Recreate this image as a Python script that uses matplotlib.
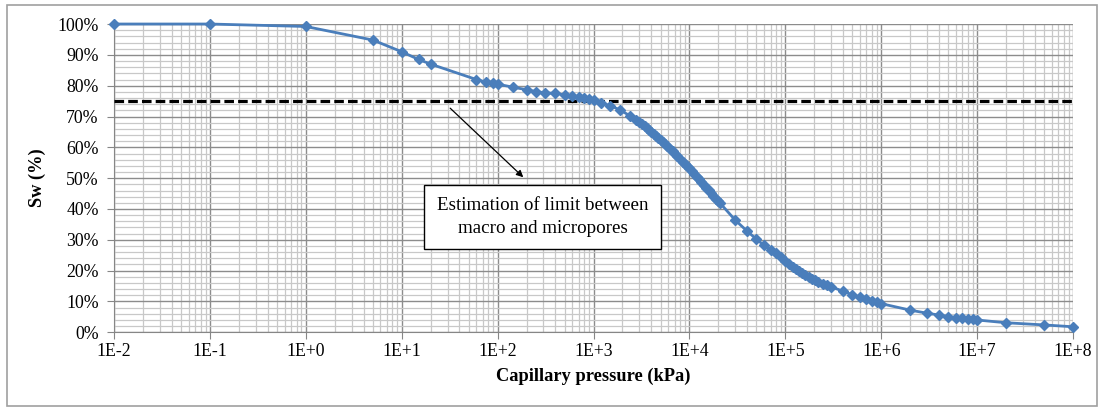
import numpy as np
import matplotlib
matplotlib.use("Agg")
import matplotlib.pyplot as plt
from matplotlib.ticker import FixedLocator, FuncFormatter, LogLocator, NullFormatter
from matplotlib.patches import Rectangle

plt.rcParams['font.family'] = ['Liberation Serif', 'DejaVu Serif']

# capillary pressure (kPa) and water saturation (%)
pressure = [0.01, 0.1, 1, 5, 10, 15, 20, 60, 75, 90, 100, 145, 200, 250, 310,
            400, 500, 600, 700, 800, 900, 1000, 1200, 1500, 1900, 2400,
            2800, 3000, 3200, 3400, 3600, 3800, 4000, 4250, 4500, 4750, 5000,
            5300, 5600, 5900, 6300, 6700, 7100, 7500, 8000, 8500, 9000, 9500,
            10000, 10600, 11200, 11900, 12600, 13300, 14100, 15000, 15800,
            16800, 17800, 18800, 20000, 21000,
            30000, 40000, 50000, 60000, 70000, 80000, 90000,
            100000, 110000, 120000, 130000, 140000, 150000, 160000, 175000,
            190000, 205000, 220000, 245000, 270000, 300000,
            400000, 500000, 600000, 700000, 800000, 900000,
            1e6, 2e6, 3e6, 4e6, 5e6, 6e6, 7e6, 8e6, 9e6, 1e7, 2e7, 5e7, 1e8]
sw = [100, 100, 99.2, 94.8, 91.0, 88.5, 87.0, 82.0, 81.2, 80.8, 80.5, 79.5, 78.7, 78.1, 77.7,
      77.5, 77.0, 76.6, 76.2, 75.9, 75.6, 75.2, 74.4, 73.5, 72.1, 70.2,
      69.0, 68.3, 67.7, 67.0, 66.3, 65.7, 65.1, 64.4, 63.7, 63.0, 62.4,
      61.7, 61.0, 60.3, 59.5, 58.7, 57.9, 57.1, 56.2, 55.4, 54.6, 53.9,
      53.2, 52.3, 51.5, 50.5, 49.7, 48.8, 47.9, 46.9, 46.1,
      45.2, 44.3, 43.4, 42.5, 41.8,
      36.4, 32.8, 30.2, 28.2, 26.7, 25.6, 24.5,
      23.0, 22.1, 21.3, 20.6, 20.0, 19.3, 18.7, 18.0,
      17.4, 16.9, 16.4, 15.8, 15.3, 14.8,
      13.3, 12.2, 11.3, 10.8, 10.3, 9.8,
      9.3, 7.2, 6.2, 5.6, 5.1, 4.8, 4.6, 4.4, 4.2, 4.0, 3.1, 2.4, 1.8]
limit = 75
note = "Estimation of limit between\nmacro and micropores"

fig = plt.figure(figsize=(11.05, 4.12), dpi=100)
ax = fig.add_axes([0.1032, 0.1934, 0.8679, 0.7483])

fig.patches.append(Rectangle((0.0065, 0.015), 0.986, 0.972, transform=fig.transFigure,
                             fill=False, edgecolor='#a0a0a0', linewidth=1.2))

ax.set_xscale('log')
ax.set_xlim(0.01, 1e8)
ax.set_ylim(0, 100)

ax.xaxis.set_major_locator(LogLocator(base=10, numticks=20))
ax.xaxis.set_minor_locator(LogLocator(base=10, subs=np.arange(2, 10), numticks=200))
ax.xaxis.set_major_formatter(FuncFormatter(lambda v, p: "1E%+d" % int(round(np.log10(v)))))
ax.xaxis.set_minor_formatter(NullFormatter())
ax.yaxis.set_major_locator(FixedLocator(np.arange(0, 101, 10)))
ax.yaxis.set_minor_locator(FixedLocator(np.arange(0, 101, 2)))
ax.yaxis.set_major_formatter(FuncFormatter(lambda v, p: "%d%%" % v))

ax.grid(which='minor', color='#c8c8c8', linewidth=0.9)
ax.grid(which='major', color='#8c8c8c', linewidth=1.0)
ax.set_axisbelow(True)
for s in ['top', 'right']:
    ax.spines[s].set_visible(False)
for s in ['left', 'bottom']:
    ax.spines[s].set_color('#868686')
ax.tick_params(which='major', length=5, color='#868686', labelsize=12.8, pad=3)
ax.tick_params(axis='y', which='major', pad=6)
ax.tick_params(which='minor', length=0)

ax.axhline(limit, color='black', linewidth=2.3, dashes=(3, 1.3), zorder=3)
ax.plot(pressure, sw, color='#4a7ebb', linewidth=2, marker='D', markersize=5.5,
        zorder=4, clip_on=False)

ax.annotate('', xy=(185, 50.3), xytext=(32, 72.7),
            arrowprops=dict(arrowstyle='-|>', color='black', lw=0.9,
                            mutation_scale=10, shrinkA=0, shrinkB=0), zorder=5)
ax.text(294, 37.4, note, ha='center', va='center', fontsize=13.7, zorder=6,
        linespacing=1.4,
        bbox=dict(boxstyle='square,pad=0.65', facecolor='white', edgecolor='black', linewidth=1))

ax.set_xlabel('Capillary pressure (kPa)', fontsize=13.2, fontweight='bold', labelpad=5)
ax.set_ylabel('Sw (%)', fontsize=13.2, fontweight='bold', labelpad=8)

fig.savefig('out.png', dpi=100)
